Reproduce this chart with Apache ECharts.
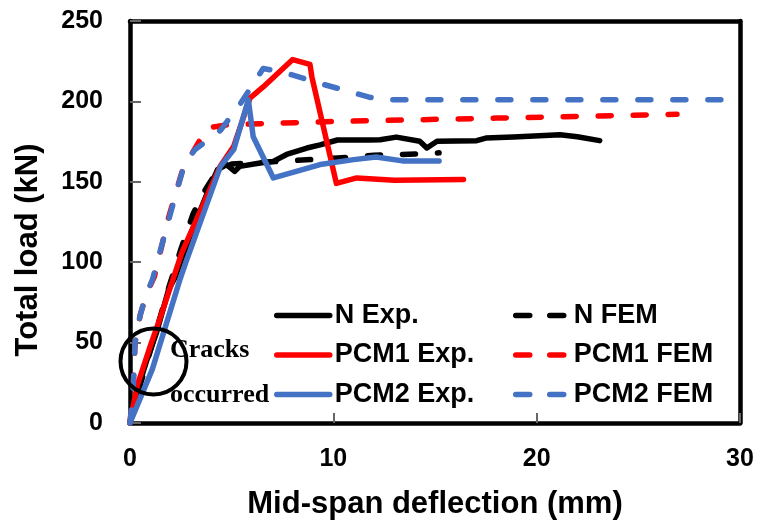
<!DOCTYPE html>
<html>
<head>
<meta charset="utf-8">
<script src="https://cdn.jsdelivr.net/npm/echarts@6/dist/echarts.min.js"></script>
<style>
  html, body { margin: 0; padding: 0; background: #fff; }
  #main { width: 759px; height: 525px; }
</style>
</head>
<body>
<div id="main"></div>
<script>
// 数据
const seriesNames = ['N Exp.', 'N FEM', 'PCM1 Exp.', 'PCM1 FEM', 'PCM2 Exp.', 'PCM2 FEM']
const xTicks = [0, 10, 20, 30]
const yTicks = [0, 50, 100, 150, 200, 250]

const nExpX = [0, 0.13, 0.8, 1.3, 1.9, 2.2, 3.0, 3.8, 4.3, 4.75, 5.15, 5.4, 6.4, 7.05, 7.7, 8.7, 9.35, 10.2, 11.8, 12.3, 13.1, 14.25, 14.6, 15.1, 17.05, 17.5, 18.85, 21.15, 22, 23.1]
const nExpY = [0, 11, 38, 56, 83, 90, 118, 143, 157.5, 160.7, 156.5, 159.6, 161.7, 162.7, 167, 171, 173, 176, 176, 176.2, 177.8, 175.2, 171, 175.2, 175.6, 177.2, 177.8, 179.3, 178, 175.6]

const nFemX = [0, 0.3, 1.0, 1.9, 2.5, 3.1, 3.7, 4.3, 5.0, 7.0, 10.2, 12.0, 13.4, 15.2]
const nFemY = [0, 15, 45, 84, 108, 130, 145, 157, 161, 162.5, 164.8, 166.5, 167, 168]

const pcm1ExpX = [0, 0.35, 1.0, 1.5, 2.55, 4.45, 5.1, 5.9, 6.55, 8.0, 8.85, 8.95, 10.15, 11.15, 13, 16.4]
const pcm1ExpY = [0, 23, 48, 66, 106, 160, 172, 202, 209, 226, 223, 215, 149, 152.4, 151, 151.4]

const pcm1FemX = [0, 0.15, 0.25, 0.5, 0.8, 1.2, 1.9, 2.6, 3.35, 3.8, 4.8, 10, 18, 26.9]
const pcm1FemY = [0, 20, 50, 67, 80, 91, 128, 158, 174, 183.4, 185.5, 187.5, 189.6, 192]

const pcm2ExpX = [0, 1.1, 2.45, 2.75, 4.45, 5.1, 5.82, 6.06, 7.05, 9.35, 11.0, 12.1, 13.4, 15.2]
const pcm2ExpY = [0, 33.5, 89, 100, 159.6, 170, 201, 178, 152.4, 160.7, 163.8, 165.4, 163, 163]

const pcm2FemX = [0, 0.15, 0.25, 0.5, 0.8, 1.1, 2.05, 2.7, 3.2, 4.45, 5.4, 6.55, 7.7, 9.4, 11.8, 12.7, 30]
const pcm2FemY = [0, 20, 50, 67, 80, 89, 133, 162, 170, 182, 198, 220.5, 217.5, 211, 202.5, 201, 201]

const zip = (xs, ys) => xs.map((x, i) => [x, ys[i]])

const BLACK = '#000000', RED = '#ff0000', BLUE = '#4472c4'
const FONT = 'Liberation Sans, Arial, sans-serif'
const SERIF = 'bold 26px "Liberation Serif", "Times New Roman", serif'

const line = (name, xs, ys, color, dashed) => ({
  name: name,
  type: 'line',
  xAxisIndex: 0,
  yAxisIndex: 0,
  data: zip(xs, ys),
  symbol: 'none',
  showSymbol: false,
  smooth: false,
  lineStyle: {
    color: color,
    width: 5.5,
    type: dashed ? [13, 22] : 'solid',
    cap: 'round',
    join: 'round'
  },
  itemStyle: { color: color },
  emphasis: { disabled: true }
})

const legendBase = {
  orient: 'vertical',
  top: 302,
  padding: 0,
  itemWidth: 53,
  itemHeight: 14,
  itemGap: 12.5,
  selectedMode: false,
  itemStyle: { opacity: 0 },
  textStyle: { fontFamily: FONT, fontWeight: 'bold', fontSize: 27, color: '#000', lineHeight: 27 }
}

const AXIS_W = 4.5

// 边框用的空轴
const frameAxis = {
  type: 'value',
  axisLine: { show: true, onZero: false, lineStyle: { color: '#000', width: AXIS_W } },
  axisTick: { show: false },
  axisLabel: { show: false },
  splitLine: { show: false }
}

const option = {
  animation: false,
  backgroundColor: '#fff',
  grid: { left: 130, right: 19, top: 21, bottom: 101 },
  legend: [
    Object.assign({}, legendBase, {
      left: 274, data: [seriesNames[0], seriesNames[2], seriesNames[4]],
      lineStyle: { width: 5.5, type: 'solid', cap: 'round' }
    }),
    Object.assign({}, legendBase, {
      left: 513, data: [seriesNames[1], seriesNames[3], seriesNames[5]],
      lineStyle: { width: 5.5, type: [14, 20], cap: 'round' }
    })
  ],
  xAxis: [{
    type: 'value',
    min: xTicks[0], max: xTicks[xTicks.length - 1], interval: 10,
    name: 'Mid-span deflection (mm)',
    nameLocation: 'middle',
    nameGap: 66,
    nameTextStyle: { fontFamily: FONT, fontWeight: 'bold', fontSize: 31, color: '#000' },
    axisLine: { show: true, onZero: false, lineStyle: { color: '#000', width: AXIS_W } },
    axisTick: { inside: true, length: 10, lineStyle: { color: '#666', width: 2 } },
    axisLabel: { margin: 24, fontFamily: FONT, fontWeight: 'bold', fontSize: 25, color: '#000' },
    splitLine: { show: false }
  }, Object.assign({ position: 'top', min: 0, max: 30 }, frameAxis)],
  yAxis: [{
    type: 'value',
    min: yTicks[0], max: yTicks[yTicks.length - 1], interval: 50,
    name: 'Total load (kN)',
    nameLocation: 'middle',
    nameGap: 86,
    nameTextStyle: { fontFamily: FONT, fontWeight: 'bold', fontSize: 31, color: '#000', padding: [0, 56, 0, 0] },
    axisLine: { show: true, onZero: false, lineStyle: { color: '#000', width: AXIS_W } },
    axisTick: { inside: true, length: 11, lineStyle: { color: '#666', width: 2 } },
    axisLabel: { margin: 27, fontFamily: FONT, fontWeight: 'bold', fontSize: 25, color: '#000' },
    splitLine: { show: false }
  }, Object.assign({ position: 'right', min: 0, max: 250 }, frameAxis)],
  series: [
    line(seriesNames[0], nExpX, nExpY, BLACK, false),
    line(seriesNames[1], nFemX, nFemY, BLACK, true),
    line(seriesNames[2], pcm1ExpX, pcm1ExpY, RED, false),
    line(seriesNames[3], pcm1FemX, pcm1FemY, RED, true),
    line(seriesNames[4], pcm2ExpX, pcm2ExpY, BLUE, false),
    line(seriesNames[5], pcm2FemX, pcm2FemY, BLUE, true)
  ],
  graphic: [
    { type: 'circle', shape: { cx: 153.5, cy: 361.5, r: 33 }, style: { fill: 'none', stroke: '#000', lineWidth: 4 }, z: 100 },
    { type: 'text', x: 170, y: 350, style: { text: 'Cracks', font: SERIF, fill: '#000', verticalAlign: 'middle' }, z: 100 },
    { type: 'text', x: 170, y: 395, style: { text: 'occurred', font: SERIF, fill: '#000', verticalAlign: 'middle' }, z: 100 }
  ]
}

let myChart = echarts.init(document.getElementById('main'))
myChart.setOption(option)
</script>
</body>
</html>
